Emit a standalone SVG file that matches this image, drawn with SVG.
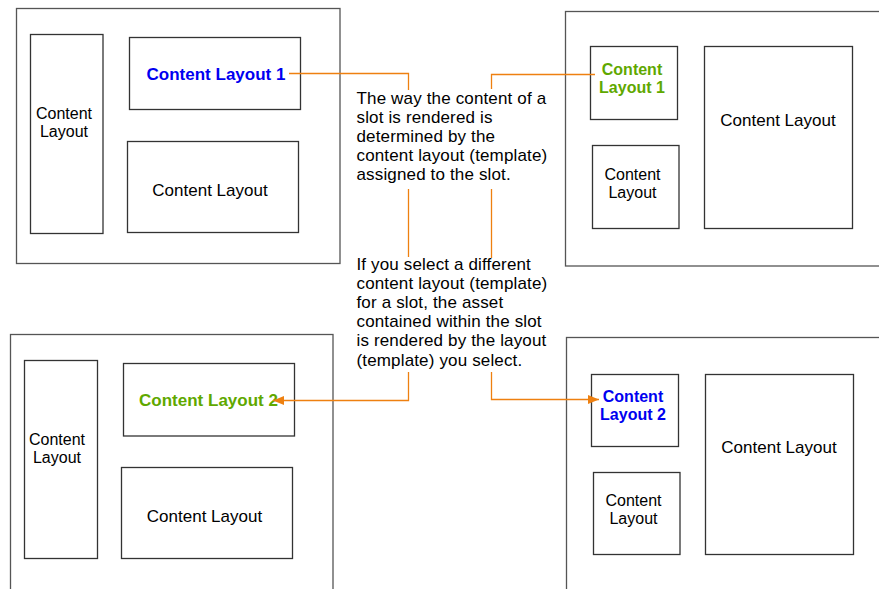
<svg xmlns="http://www.w3.org/2000/svg" width="879" height="589" viewBox="0 0 879 589">
<style>
.outer{fill:none;stroke:#555;stroke-width:1.3}
.box{fill:#fff;stroke:#333;stroke-width:1.3}
.t{font-family:"Liberation Sans",Arial,sans-serif;font-size:17px;fill:#000;text-anchor:middle}
.s{font-size:16px}
.b{font-weight:bold}
.blue{fill:#0000F0}
.green{fill:#5FA800}
.body{font-family:"Liberation Sans",Arial,sans-serif;font-size:17px;fill:#000;letter-spacing:0.15px}
.con{fill:none;stroke:#EE8010;stroke-width:1.3}
</style>
<defs>
<marker id="arr" markerUnits="userSpaceOnUse" markerWidth="12" markerHeight="10" refX="11" refY="4.5" orient="auto">
<path d="M0,0 L11,4.5 L0,9 z" fill="#EE8010"/>
</marker>
</defs>
<rect width="879" height="589" fill="#fff"/>

<g id="panel-top-left">
<rect class="outer" x="16.5" y="8.5" width="323.5" height="255"/>
<g id="tl-left"><rect class="box" x="30.5" y="34.5" width="72.5" height="199"/>
<text class="t s" x="64" y="118.5">Content</text><text class="t s" x="64" y="136.5">Layout</text></g>
<g id="tl-cl1"><rect class="box" x="129.5" y="37.5" width="171" height="72"/>
<text class="t b blue" x="216" y="80">Content Layout 1</text></g>
<g id="tl-bottom"><rect class="box" x="127.5" y="141.5" width="171" height="91"/>
<text class="t" x="210" y="196">Content Layout</text></g>
</g>

<g id="panel-top-right">
<rect class="outer" x="565.5" y="11.5" width="330" height="254.5"/>
<g id="tr-cl1"><rect class="box" x="590.5" y="46.5" width="87" height="73"/>
<text class="t s b green" x="632" y="74.5">Content</text><text class="t s b green" x="632" y="92.5">Layout 1</text></g>
<g id="tr-small"><rect class="box" x="592.5" y="145.5" width="86.5" height="83"/>
<text class="t s" x="632.5" y="179.5">Content</text><text class="t s" x="632.5" y="197.5">Layout</text></g>
<g id="tr-big"><rect class="box" x="704.5" y="46.5" width="148" height="182"/>
<text class="t" x="778" y="126">Content Layout</text></g>
</g>

<g id="panel-bottom-left">
<rect class="outer" x="10.5" y="334.5" width="322.5" height="270"/>
<g id="bl-left"><rect class="box" x="24.5" y="360.5" width="73" height="198"/>
<text class="t s" x="57" y="444.5">Content</text><text class="t s" x="57" y="462.5">Layout</text></g>
<g id="bl-cl2"><rect class="box" x="123.5" y="363.5" width="171" height="72.5"/>
<text class="t b green" x="208.5" y="406">Content Layout 2</text></g>
<g id="bl-bottom"><rect class="box" x="121.5" y="467.5" width="171" height="91"/>
<text class="t" x="204.5" y="521.5">Content Layout</text></g>
</g>

<g id="panel-bottom-right">
<rect class="outer" x="566.5" y="337.5" width="330" height="270"/>
<g id="br-cl2"><rect class="box" x="591.5" y="374.5" width="87" height="72"/>
<text class="t s b blue" x="633" y="402">Content</text><text class="t s b blue" x="633" y="420">Layout 2</text></g>
<g id="br-small"><rect class="box" x="593.5" y="472.5" width="86.5" height="82"/>
<text class="t s" x="633.5" y="506">Content</text><text class="t s" x="633.5" y="524">Layout</text></g>
<g id="br-big"><rect class="box" x="705.5" y="374.5" width="148" height="180"/>
<text class="t" x="779" y="452.5">Content Layout</text></g>
</g>

<g id="note-1">
<text class="body" x="356.5" y="104">The way the content of a</text>
<text class="body" x="356.5" y="123">slot is rendered is</text>
<text class="body" x="356.5" y="142">determined by the</text>
<text class="body" x="356.5" y="161">content layout (template)</text>
<text class="body" x="356.5" y="180">assigned to the slot.</text>
</g>
<g id="note-2">
<text class="body" x="356.5" y="269.5">If you select a different</text>
<text class="body" x="356.5" y="288.7">content layout (template)</text>
<text class="body" x="356.5" y="307.9">for a slot, the asset</text>
<text class="body" x="356.5" y="327.1">contained within the slot</text>
<text class="body" x="356.5" y="346.3">is rendered by the layout</text>
<text class="body" x="356.5" y="365.5">(template) you select.</text>
</g>

<g id="connectors">
<path class="con" d="M289,73.5 H408.5 V90"/>
<path class="con" d="M595,74.5 H491.5 V89"/>
<path class="con" d="M408.5,189 V257"/>
<path class="con" d="M491.5,189 V258"/>
<path class="con" d="M408.5,372 V400.5 H273" marker-end="url(#arr)"/>
<path class="con" d="M491.5,372 V399.5 H599" marker-end="url(#arr)"/>
</g>
</svg>
